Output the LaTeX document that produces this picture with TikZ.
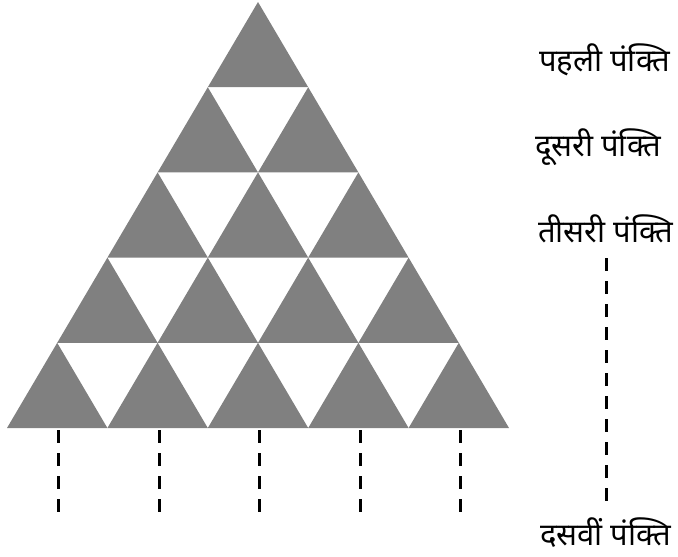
\documentclass[tikz,border=0pt]{standalone}
\usepackage{fontspec}
\newfontfamily\hindifont[Script=Devanagari]{Noto Sans}
\usetikzlibrary{positioning}

\begin{document}
\begin{tikzpicture}[
    x=1pt, y=-1pt,
    tri/.style={fill=black!50, draw=none},
    gapline/.style={line width=3pt, dash pattern=on 13pt off 10pt},
    rowtext/.style={anchor=base west, inner sep=0pt, font=\hindifont\fontsize{31}{36}\selectfont}
]
    \useasboundingbox (0,0) rectangle (678,557);

    % Triangles
    \foreach \r in {0,...,4} {
        \foreach \k in {0,...,\r} {
            \pgfmathsetmacro{\ax}{258+(\k-\r/2)*100.4}
            \pgfmathsetmacro{\ay}{2+\r*85.2}
            \fill[tri] (\ax,\ay) -- (\ax-50.2,\ay+85.2) -- (\ax+50.2,\ay+85.2) -- cycle;
        }
    }

    % Row labels
    \node[rowtext] (L1) at (539,71) {पहली पंक्ति};
    \node[rowtext] (L2) at (535,156) {दूसरी पंक्ति};
    \node[rowtext] (L3) at (538,242) {तीसरी पंक्ति};
    \node[rowtext] (L10) at (540,545) {दसवीं पंक्ति};

    % Dashes
    \coordinate (top) at (606,258);
    \coordinate (bot) at (606,501);
    \draw[gapline] (top) -- (bot);

    \foreach \k in {0,...,4} {
        \coordinate (s\k) at (58.8+\k*100.4,430);
        \coordinate (e\k) at (58.8+\k*100.4,512);
        \draw[gapline] (s\k) -- (e\k);
    }
\end{tikzpicture}
\end{document}
